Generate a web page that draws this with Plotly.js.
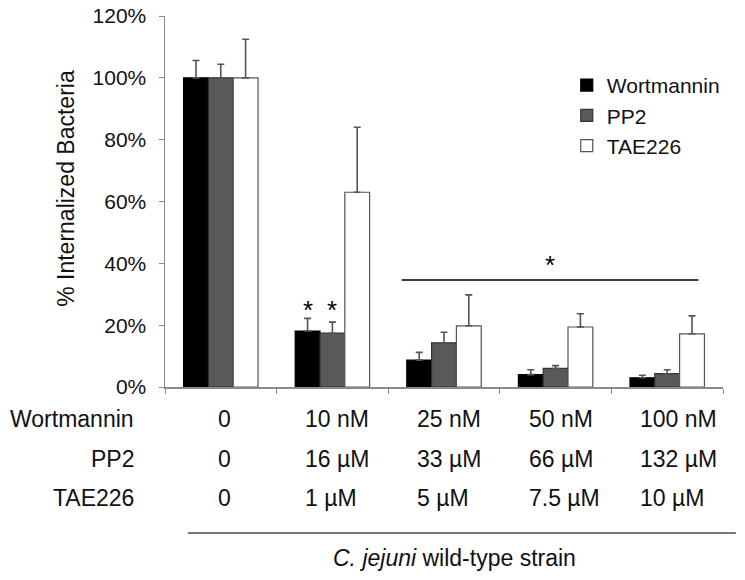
<!DOCTYPE html>
<html>
<head>
<meta charset="utf-8">
<script src="https://cdn.plot.ly/plotly-3.0.1.min.js"></script>
<style>html,body{margin:0;padding:0;background:#fff;}#chart{width:745px;height:580px;}</style>
</head>
<body>
<div id="chart"></div>
<script>
// ---- data ----
var groups = ['g1', 'g2', 'g3', 'g4', 'g5'];
var seriesNames = ['Wortmannin', 'PP2', 'TAE226'];
var wortmannin = [100, 18.1, 8.7, 4.0, 3.0];
var wortmanninErr = [5.6, 4.1, 2.5, 1.6, 0.8];
var pp2 = [100, 17.4, 14.3, 6.0, 4.3];
var pp2Err = [4.4, 3.6, 3.4, 0.9, 1.3];
var tae226 = [100, 63.0, 19.8, 19.4, 17.2];
var tae226Err = [12.5, 21.0, 10.0, 4.3, 5.8];
var wortLabels = ['0', '10 nM', '25 nM', '50 nM', '100 nM'];
var pp2Labels = ['0', '16 µM', '33 µM', '66 µM', '132 µM'];
var taeLabels = ['0', '1 µM', '5 µM', '7.5 µM', '10 µM'];
var yTicks = [0, 20, 40, 60, 80, 100, 120];
var yTickText = ['0%', '20%', '40%', '60%', '80%', '100%', '120%'];
var starPos = [[0.778, 24.8], [1.0, 24.8]];   // single-bar significance marks (x index, y %)
var sigLine = {x0: 1.62, x1: 4.28, y: 34.6, starY: 39.6};
var caption = '<i>C. jejuni</i> wild-type strain';
var yTitle = '% Internalized Bacteria';

// ---- styling ----
var FONT = '"Liberation Sans", Arial, sans-serif';
var fills = ['#000000', '#595959', '#ffffff'];
var borders = ['#000000', '#333333', '#555555'];
var vals = [wortmannin, pp2, tae226];
var errs = [wortmanninErr, pp2Err, tae226Err];

var traces = seriesNames.map(function (name, i) {
  return {
    type: 'bar', name: name, x: groups, y: vals[i],
    marker: {color: fills[i], line: {color: borders[i], width: 1.2}},
    error_y: {type: 'data', symmetric: false, array: errs[i],
              arrayminus: errs[i].map(function () { return 0; }),
              color: '#555555', thickness: 1.6, width: 3.5},
    hoverinfo: 'skip'
  };
});

var annotations = [];
var rows = [wortLabels, pp2Labels, taeLabels];
var rowShift = [-32, -72, -111];
rows.forEach(function (labels, r) {
  annotations.push({xref: 'paper', yref: 'paper', x: -0.052, y: 0, yshift: rowShift[r],
    xanchor: 'right', yanchor: 'middle', text: seriesNames[r], showarrow: false,
    font: {family: FONT, size: 23, color: '#111'}});
  labels.forEach(function (lab, c) {
    var first = c === 0;
    annotations.push({xref: 'x', yref: 'paper', x: c, y: 0, yshift: rowShift[r],
      xanchor: first ? 'center' : 'left', xshift: first ? 4 : -29, yanchor: 'middle',
      text: lab, showarrow: false, font: {family: FONT, size: 23, color: '#111'}});
  });
});
starPos.forEach(function (p) {
  annotations.push({xref: 'x', yref: 'y', x: p[0], y: p[1], text: '*', showarrow: false,
    xanchor: 'center', yanchor: 'middle', font: {family: FONT, size: 26, color: '#000'}});
});
annotations.push({xref: 'x', yref: 'y', x: (sigLine.x0 + sigLine.x1) / 2, y: sigLine.starY, text: '*',
  showarrow: false, xanchor: 'center', yanchor: 'middle', font: {family: FONT, size: 26, color: '#000'}});
annotations.push({xref: 'paper', yref: 'paper', x: -0.178, y: 0.536, text: yTitle, textangle: -90,
  showarrow: false, xanchor: 'center', yanchor: 'middle', font: {family: FONT, size: 23, color: '#111'}});
annotations.push({xref: 'paper', yref: 'paper', x: 0.518, y: 0, yshift: -171, text: caption,
  showarrow: false, xanchor: 'center', yanchor: 'middle', font: {family: FONT, size: 23, color: '#111'}});

var shapes = [
  {type: 'line', xref: 'x', yref: 'y', x0: sigLine.x0, x1: sigLine.x1, y0: sigLine.y, y1: sigLine.y,
   line: {color: '#000', width: 1.5}},
  {type: 'line', xref: 'paper', yref: 'paper', x0: 0.041, x1: 1.023, y0: -0.3935, y1: -0.3935,
   line: {color: '#777', width: 2.2}}
];

var layout = {
  width: 745, height: 580,
  margin: {l: 165, r: 22, t: 16, b: 193},
  paper_bgcolor: '#fff', plot_bgcolor: '#fff',
  font: {family: FONT, color: '#111'},
  barmode: 'group', bargap: 0.333, bargroupgap: 0,
  showlegend: true,
  legend: {x: 0.72, xanchor: 'left', y: 0.868, yanchor: 'top', bgcolor: 'rgba(0,0,0,0)',
           font: {family: FONT, size: 21, color: '#111'}, tracegroupgap: 0},
  xaxis: {type: 'category', showticklabels: false, showline: true, linecolor: '#8a8a8a', linewidth: 1.5,
          ticks: 'outside', tickson: 'boundaries', ticklen: 5, tickcolor: '#8a8a8a', showgrid: false,
          zeroline: false, fixedrange: true},
  yaxis: {range: [0, 120], tickmode: 'array', tickvals: yTicks, ticktext: yTickText, showline: true,
          linecolor: '#8a8a8a', linewidth: 1.5, ticks: 'outside', ticklen: 5, tickcolor: '#8a8a8a',
          showgrid: false, zeroline: false, ticklabelstandoff: 8,
          tickfont: {family: FONT, size: 21, color: '#111'}, fixedrange: true},
  annotations: annotations,
  shapes: shapes
};

Plotly.newPlot('chart', traces, layout, {displayModeBar: false, staticPlot: true});
</script>
</body>
</html>
